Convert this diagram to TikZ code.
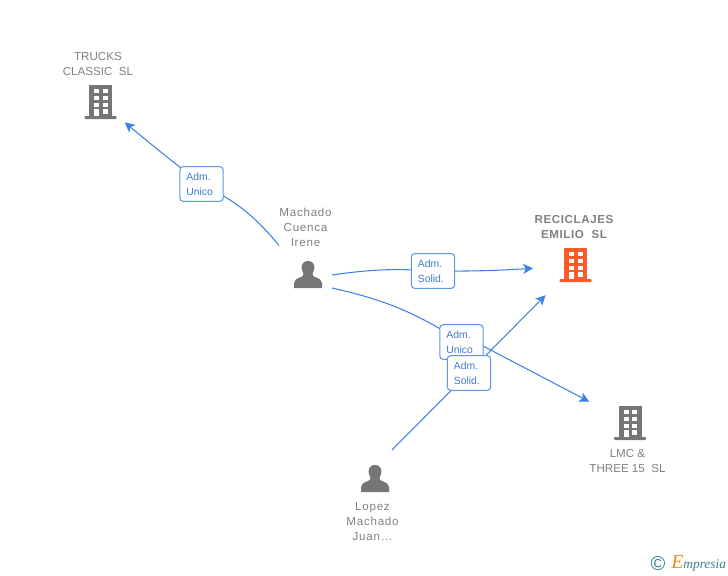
\documentclass[tikz,border=0pt]{standalone}
\usepackage{fontspec}
\setmainfont{Liberation Sans}
\newfontfamily\logofont{Liberation Serif}
\usepackage{xcolor}
\usetikzlibrary{arrows.meta}
\definecolor{linkblue}{HTML}{3F83E0}
\definecolor{boxblue}{HTML}{5C97E6}
\definecolor{labelblue}{HTML}{3F7BD0}
\definecolor{icongray}{HTML}{767676}
\definecolor{textgray}{HTML}{808080}
\definecolor{firmred}{HTML}{FF5A2B}
\definecolor{logoteal}{HTML}{2F7F92}
\definecolor{logoorange}{HTML}{F58A1F}
\tikzset{
  link/.style={line width=0.8pt, linkblue},
  tip/.style={-{Stealth[length=7.5pt,width=7.5pt,inset=2pt]}},
  rolebox/.style={draw=boxblue, line width=0.8pt, fill=white, rounded corners=2.5pt,
    text width=22.7pt, minimum height=26pt, inner xsep=4.9pt, inner ysep=0pt, align=left,
    font=\fontsize{7.8}{11.2}\selectfont, text=labelblue},
  caption/.style={align=center, font=\fontsize{8.7}{11.25}\selectfont, text=textgray, inner sep=0pt},
  namecaption/.style={caption, font=\fontsize{8.7}{11.25}\selectfont\addfontfeatures{LetterSpace=6.5}},
  hub/.style={circle, minimum size=#1, inner sep=0pt, outer sep=0pt},
  personhub/.style={rectangle, minimum width=36pt, minimum height=#1, inner sep=0pt, outer sep=0pt},
  pics/building/.style={code={
    \fill[#1] (-11.5,-17) rectangle (11.5,14);
    \fill[#1, rounded corners=0.6pt] (-16,14) rectangle (16,17);
    \foreach \wy in {-13.5,-6.5,0.5} {
      \fill[white] (-6.5,\wy) rectangle (-1.5,\wy+4.5);
      \fill[white] (2,\wy) rectangle (7,\wy+4.5);
    }
    \fill[white] (-6.5,7) rectangle (-1.5,14);
    \fill[white] (2,7) rectangle (7,11.5);
  }},
  pics/person/.style={code={
    \fill[icongray] (0,-14) .. controls (-7,-14) and (-7,-7) .. (-6,-5)
      .. controls (-5.5,-3) and (-4.5,-2) .. (-4.5,-0.5)
      .. controls (-4.5,3) and (-13.5,2) .. (-14,8) -- (-14,13) -- (14,13) -- (14,8)
      .. controls (13.5,2) and (4.5,3) .. (4.5,-0.5)
      .. controls (4.5,-2) and (5.5,-3) .. (6,-5)
      .. controls (7,-7) and (7,-14) .. (0,-14) -- cycle;
  }},
}

\begin{document}
\begin{tikzpicture}[x=0.75pt,y=-0.75pt]
\useasboundingbox (0,0) rectangle (728,575);

% Firms
\node[hub=47.5pt] (trucks) at (100.5,102) {};
\pic at (100.5,102) {building=icongray};
\node[caption] (truckstext) at (98,64.5) {TRUCKS\\CLASSIC~~SL};

\node[hub=63.75pt] (reciclajes) at (575.5,265) {};
\pic at (575.5,265) {building=firmred};
\node[caption, font=\fontsize{8.7}{11.25}\selectfont\bfseries\addfontfeatures{LetterSpace=5}] (reciclajestext) at (574,227) {RECICLAJES\\EMILIO~~SL};

\node[hub=69pt] (lmc) at (630,423) {};
\pic at (630,423) {building=icongray};
\node[caption] (lmctext) at (627.5,460.5) {LMC \&\\THREE 15~~SL};

% People
\node[personhub=19.5pt] (machado) at (308,275) {};
\pic at (308,275) {person};
\node[namecaption] (machadotext) at (305.5,227) {Machado\\Cuenca\\Irene};

\node[personhub=43.5pt, minimum width=25.5pt] (lopez) at (375,479) {};
\pic at (375,479) {person};
\node[namecaption] (lopeztext) at (372.5,522) {Lopez\\Machado\\Juan\dots};

% Roles
\coordinate (rolea) at (201.5,184);
\coordinate (roleb) at (433,271);
\coordinate (rolec) at (461.5,342);
\coordinate (roled) at (469,373);
\coordinate (rolecout) at (483,346);

% Links
\draw[link] (machadotext.south west) ++(0,-1) to[bend right=12] (rolea);
\draw[link, tip] (rolea) to[bend left=1] (trucks);
\draw[link] (machado.east) to[bend left=6] (roleb);
\draw[link, tip] (roleb) to[bend right=2] (reciclajes);
\draw[link] (machado.south east) to[bend left=10] (rolec);
\draw[link, tip] (rolecout) -- (lmc);
\draw[link, tip] (lopez.north east) -- (reciclajes);

% Role boxes
\node[rolebox] (adma) at (rolea) {Adm.\\Unico};
\node[rolebox] (admb) at (roleb) {Adm.\\Solid.};
\node[rolebox] (admc) at (rolec) {Adm.\\Unico};
\node[rolebox] (admd) at (roled) {Adm.\\Solid.};

% Logo
\node[inner sep=0pt, text=logoteal, font=\fontsize{15}{15}\selectfont] (copyr) at (658,564) {©};
\node[inner sep=0pt, anchor=base west, text=logoteal, font=\logofont\itshape\fontsize{10}{10}\selectfont] (logo) at (671,568) {\textcolor{logoorange}{\fontsize{15}{15}\selectfont E}mpresia};

\end{tikzpicture}
\end{document}
